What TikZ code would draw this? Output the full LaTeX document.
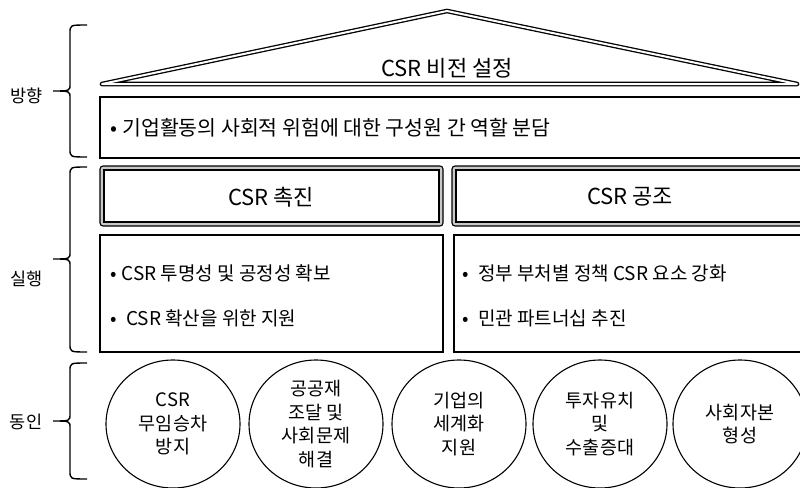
\documentclass[tikz,border=0pt]{standalone}
\usepackage{fontspec}
\setmainfont{Noto Sans CJK KR}
\usetikzlibrary{shapes.geometric}

\begin{document}
\begin{tikzpicture}[x=1pt, y=-1pt,
    frame/.style={draw=borderColour, line width=1.1pt},
    roof/.style={draw=borderColour, line width=1.3pt, double=white, double distance=2pt, line join=round, line cap=round},
    brace/.style={draw=borderColour, line width=1.4pt},
    driver/.style={ellipse, draw=borderColour, line width=1.1pt, minimum width=134pt, minimum height=128pt, inner sep=0pt, align=center, font=\fontsize{18.5}{23.5}\selectfont},
    item/.style={anchor=west, inner sep=0pt, font=\fontsize{19}{23}\selectfont},
    heading/.style={font=\fontsize{22}{26}\selectfont},
    side/.style={font=\fontsize{17.5}{20}\selectfont}]
    % Define colours
    \definecolor{borderColour}{HTML}{000000}
    \definecolor{bandColour}{HTML}{C8C8C8}

    % Fix the picture size
    \useasboundingbox (0,0) rectangle (800,487);
    \clip (0,0) rectangle (800,487);

    % Side brace: top, tip, bottom
    \def\sideBrace#1#2#3{%
        \draw[brace] (87,#1) .. controls (70,#1) .. (70,#1+8) -- (70,#2-7)
            .. controls (70,#2) .. (53,#2) .. controls (70,#2) .. (70,#2+7)
            -- (70,#3-8) .. controls (70,#3) .. (87,#3);}

    % Draw the braces and their labels
    \sideBrace{25}{91}{157}
    \sideBrace{167}{259}{352}
    \sideBrace{363}{421}{479}
    \node[side] (direction) at (27,96) {방향};
    \node[side] (action) at (27,279) {실행};
    \node[side] (drivers) at (26,422) {동인};

    % Draw the roof
    \draw[roof] (102,84) -- (447,11) -- (797,84) -- cycle;
    \node[heading] (vision) at (447,68) {CSR 비전 설정};

    % Draw the direction box
    \draw[frame] (100,97) rectangle (812,158);
    \node[item, font=\fontsize{20.5}{24}\selectfont] (roles) at (110,128) {•\hspace{0.25em}기업활동의 사회적 위험에 대한 구성원 간 역할 분담};

    % Draw the two heading boxes
    \filldraw[frame, fill=bandColour, rounded corners=3pt] (100,166) rectangle (443,226);
    \filldraw[frame, fill=white] (104,170) rectangle (439,222);
    \filldraw[frame, fill=bandColour, rounded corners=3pt] (452,166) rectangle (820,226);
    \filldraw[frame, fill=white] (456,170) rectangle (816,222);
    \node[heading] (promote) at (271,197) {CSR 촉진};
    \node[heading] (cooperate) at (630,197) {CSR 공조};

    % Draw the two item boxes
    \draw[frame] (100,235) rectangle (443,352);
    \draw[frame] (454,235) rectangle (812,352);
    \node[item] (promoteA) at (110,273) {•\hspace{0.25em}CSR 투명성 및 공정성 확보};
    \node[item] (promoteB) at (110,318) {•\hspace{0.5em}CSR 확산을 위한 지원};
    \node[item] (cooperateA) at (462,273) {•\hspace{0.5em}정부 부처별 정책 CSR 요소 강화};
    \node[item] (cooperateB) at (462,318) {•\hspace{0.5em}민관 파트너십 추진};

    % Draw the drivers
    \node[driver] (freeRide) at (173,424) {CSR\\무임승차\\방지};
    \node[driver] (publicGoods) at (316,424) {공공재\\조달 및\\사회문제\\해결};
    \node[driver] (global) at (459,424) {기업의\\세계화\\지원};
    \node[driver] (invest) at (600,424) {투자유치\\및\\수출증대};
    \node[driver] (capital) at (740,424) {사회자본\\형성};

\end{tikzpicture}
\end{document}
